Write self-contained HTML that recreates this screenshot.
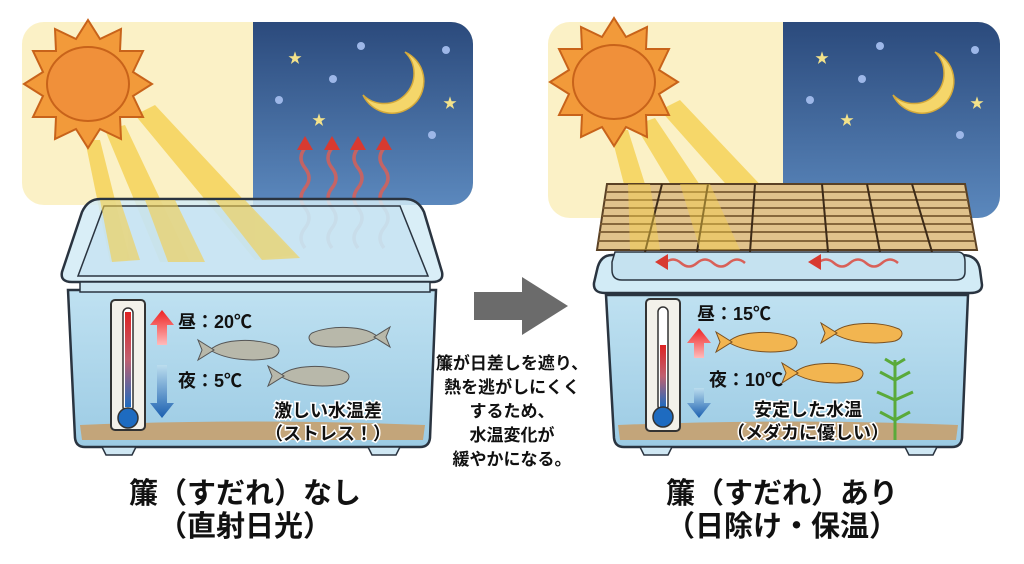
<!DOCTYPE html>
<html><head><meta charset="utf-8"><style>
body{margin:0;background:#fff;width:1024px;height:559px;overflow:hidden}
svg text{font-family:"Liberation Sans","Noto Sans CJK JP",sans-serif;font-weight:bold}
</style></head><body>
<svg width="1024" height="559" viewBox="0 0 1024 559" xmlns="http://www.w3.org/2000/svg">
<defs>
<linearGradient id="night" x1="0" y1="0" x2="0" y2="1"><stop offset="0" stop-color="#2b4a7c"/><stop offset="1" stop-color="#5b88bd"/></linearGradient>
<linearGradient id="water" x1="0" y1="0" x2="0" y2="1"><stop offset="0" stop-color="#bfe1f1"/><stop offset="1" stop-color="#9ccbe4"/></linearGradient>
<linearGradient id="therm" x1="0" y1="0" x2="0" y2="1"><stop offset="0" stop-color="#d22"/><stop offset="0.5" stop-color="#c06070"/><stop offset="1" stop-color="#1e6bc0"/></linearGradient>
<linearGradient id="up" x1="0" y1="0" x2="0" y2="1"><stop offset="0" stop-color="#e22"/><stop offset="1" stop-color="#fbb"/></linearGradient>
<linearGradient id="dn" x1="0" y1="0" x2="0" y2="1"><stop offset="0" stop-color="#bde"/><stop offset="1" stop-color="#1a5fb0"/></linearGradient>
<g id="sun">
<polygon fill="#f29a3a" stroke="#c8631a" stroke-width="2" points="0,-64 12,-45 33,-55 32,-33 55,-33 45,-12 64,0 45,12 55,33 32,33 33,55 12,45 0,64 -12,45 -33,55 -32,33 -55,33 -45,12 -64,0 -45,-12 -55,-33 -32,-33 -33,-55 -12,-45"/>
<ellipse rx="41" ry="37" fill="#f0903a" stroke="#c8631a" stroke-width="2"/>
</g>
<g id="fish"><path d="M-38,0 C-25,-12 10,-12 28,-4 C34,0 30,6 24,8 C5,12 -22,10 -38,0 Z"/><path d="M-34,0 L-50,-10 L-46,0 L-50,10 Z"/></g>
</defs>

<rect x="22" y="22" width="451" height="183" rx="22" fill="#fbf1c6"/>
<path d="M253,22 H451 A22,22 0 0 1 473,44 V183 A22,22 0 0 1 451,205 H253 Z" fill="url(#night)"/>
<g fill="#f5cf4a" opacity="0.75">
<polygon points="85,140 100,140 130,260 110,262"/>
<polygon points="105,130 125,125 190,262 160,262"/>
<polygon points="135,115 155,105 295,255 255,260"/>
</g>
<use href="#sun" x="88" y="84"/>
<path d="M405,52 A32,32 0 1 1 363,95 A28,28 0 0 0 405,52 Z" fill="#f5d66a" stroke="#d4a93a" stroke-width="1.5"/>
<g fill="#9db7e8"><circle cx="361" cy="46" r="4"/><circle cx="333" cy="79" r="4"/><circle cx="279" cy="100" r="4"/><circle cx="446" cy="50" r="4"/><circle cx="432" cy="135" r="4"/></g>
<g fill="#f3e28a" font-size="14"><text x="288" y="63">★</text><text x="312" y="125">★</text><text x="443" y="108">★</text></g>
<g fill="none" stroke="#d86058" stroke-width="3.5" opacity="0.85">
<path d="M305,148 q-8,10 0,20 q8,10 0,20 q-8,10 0,20 q8,10 0,20 q-8,10 0,20"/>
<path d="M332,148 q-8,10 0,20 q8,10 0,20 q-8,10 0,20 q8,10 0,20 q-8,10 0,20"/>
<path d="M358,148 q-8,10 0,20 q8,10 0,20 q-8,10 0,20 q8,10 0,20 q-8,10 0,20"/>
<path d="M384,148 q-8,10 0,20 q8,10 0,20 q-8,10 0,20 q8,10 0,20 q-8,10 0,20"/>
</g>
<g fill="#d83a30"><polygon points="305,136 297,150 313,150"/><polygon points="332,136 324,150 340,150"/><polygon points="358,136 350,150 366,150"/><polygon points="384,136 376,150 392,150"/></g>

<path d="M100,199 H405 Q418,199 424,212 L442,272 Q444,282 432,282 H72 Q60,282 62,272 L82,212 Q88,199 100,199 Z" fill="#d2ebf6" fill-opacity="0.85" stroke="#2a3440" stroke-width="2.5"/>
<path d="M104,206 H400 L428,276 H78 Z" fill="#bfe0f0" fill-opacity="0.6" stroke="#2a3440" stroke-width="1.5"/>
<g fill="#f5cf4a" opacity="0.6"><polygon points="100,200 120,200 140,260 112,262"/><polygon points="145,200 175,200 205,262 168,262"/><polygon points="215,200 245,200 300,258 262,260"/></g>
<path d="M68,290 H436 L430,438 Q429,447 420,447 H85 Q76,447 75,438 Z" fill="url(#water)" stroke="#2a3440" stroke-width="2.5"/>
<path d="M80,282 H430 V292 H80 Z" fill="#cce6f2" stroke="#2a3440" stroke-width="1.5"/>
<path d="M80,425 Q250,418 425,425 L423,440 H82 Z" fill="#c3a57a"/>
<path d="M102,447 H136 L132,455 H106 Z M368,447 H400 L396,455 H372 Z" fill="#cfe7f3" stroke="#2a3440" stroke-width="1.5"/>
<rect x="111" y="300" width="34" height="130" rx="4" fill="#f3f1ea" stroke="#333" stroke-width="2"/>
<rect x="123" y="308" width="10" height="104" rx="5" fill="#fff" stroke="#333" stroke-width="1.5"/>
<rect x="125" y="312" width="6" height="95" fill="url(#therm)"/>
<circle cx="128" cy="418" r="10" fill="#1e6bc0" stroke="#333" stroke-width="1.5"/>
<polygon points="162,310 150,325 157,325 157,345 167,345 167,325 174,325" fill="url(#up)"/>
<polygon points="162,418 150,403 157,403 157,365 167,365 167,403 174,403" fill="url(#dn)"/>
<text x="178" y="328" font-size="18" fill="#111">昼：20℃</text>
<text x="178" y="387" font-size="18" fill="#111">夜：5℃</text>
<g fill="#b8b8aa" stroke="#555" stroke-width="1"><use href="#fish" x="248" y="350"/><use href="#fish" x="340" y="337" transform="scale(-1,1) translate(-680,0)"/><use href="#fish" x="318" y="376"/></g>
<text x="328" y="417" font-size="18" fill="#111" text-anchor="middle" stroke="#fff" stroke-width="3" paint-order="stroke">激しい水温差</text>
<text x="328" y="440" font-size="18" fill="#111" text-anchor="middle" stroke="#fff" stroke-width="3" paint-order="stroke">（ストレス！）</text>
<text x="245" y="503" font-size="29" fill="#111" text-anchor="middle">簾（すだれ）なし</text>
<text x="245" y="536" font-size="29" fill="#111" text-anchor="middle">（直射日光）</text>

<polygon points="474,292 522,292 522,277 568,306 522,335 522,320 474,320" fill="#6b6b6b"/>
<g font-size="17" fill="#111" text-anchor="middle">
<text x="512" y="369">簾が日差しを遮り、</text>
<text x="512" y="393">熱を逃がしにくく</text>
<text x="512" y="417">するため、</text>
<text x="512" y="441">水温変化が</text>
<text x="512" y="465">緩やかになる。</text>
</g>

<rect x="548" y="22" width="452" height="196" rx="22" fill="#fbf1c6"/>
<path d="M783,22 H978 A22,22 0 0 1 1000,44 V196 A22,22 0 0 1 978,218 H783 Z" fill="url(#night)"/>
<g fill="#f5cf4a" opacity="0.75">
<polygon points="610,130 628,130 650,200 628,200"/>
<polygon points="635,125 655,118 710,200 680,200"/>
<polygon points="660,110 680,100 770,195 740,200"/>
</g>
<use href="#sun" x="614" y="82"/>
<path d="M935,52 A32,32 0 1 1 893,95 A28,28 0 0 0 935,52 Z" fill="#f5d66a" stroke="#d4a93a" stroke-width="1.5"/>
<g fill="#9db7e8"><circle cx="880" cy="46" r="4"/><circle cx="862" cy="79" r="4"/><circle cx="810" cy="100" r="4"/><circle cx="975" cy="50" r="4"/><circle cx="960" cy="135" r="4"/></g>
<g fill="#f3e28a" font-size="14"><text x="815" y="63">★</text><text x="840" y="125">★</text><text x="970" y="108">★</text></g>

<path d="M612,255 H962 Q978,255 980,270 L982,285 Q982,293 970,293 H605 Q593,293 594,283 L597,270 Q600,255 612,255 Z" fill="#d2ebf6" stroke="#2a3440" stroke-width="2.5"/>
<path d="M615,252 H958 Q965,252 965,262 V272 Q965,280 955,280 H622 Q612,280 612,270 V262 Z" fill="#c5e2f0" stroke="#2a3440" stroke-width="1.5"/>
<g fill="none" stroke="#d86058" stroke-width="2.5">
<path d="M665,263 q8,-7 16,0 t16,0 t16,0 t16,0 t16,0"/>
<path d="M818,263 q8,-7 16,0 t16,0 t16,0 t16,0 t16,0"/>
</g>
<g fill="#d83a30"><polygon points="655,262 668,254 668,270"/><polygon points="808,262 821,254 821,270"/></g>
<polygon points="607,184 965,184 977,250 597,250" fill="#e0c28c" stroke="#5a4125" stroke-width="2"/>
<g stroke="#7a5a30" stroke-width="1.8">
<line x1="606" y1="192" x2="966" y2="192"/><line x1="604" y1="200" x2="968" y2="200"/><line x1="603" y1="208" x2="969" y2="208"/><line x1="602" y1="216" x2="971" y2="216"/><line x1="600" y1="224" x2="972" y2="224"/><line x1="599" y1="232" x2="974" y2="232"/><line x1="598" y1="241" x2="975" y2="241"/>
</g>
<g stroke="#3c2a18" stroke-width="2">
<line x1="662" y1="184" x2="645" y2="252"/><line x1="708" y1="184" x2="697" y2="252"/><line x1="755" y1="184" x2="750" y2="252"/><line x1="822" y1="184" x2="828" y2="252"/><line x1="867" y1="184" x2="880" y2="252"/><line x1="912" y1="184" x2="932" y2="252"/>
</g>
<g fill="#f5cf4a" opacity="0.45"><polygon points="628,184 650,184 660,250 630,250"/><polygon points="680,184 710,184 740,250 700,250"/></g>
<path d="M606,295 H968 L962,438 Q961,447 952,447 H624 Q615,447 614,438 Z" fill="url(#water)" stroke="#2a3440" stroke-width="2.5"/>
<path d="M618,425 Q790,418 958,425 L956,440 H620 Z" fill="#c3a57a"/>
<path d="M640,447 H672 L668,455 H644 Z M905,447 H937 L933,455 H909 Z" fill="#cfe7f3" stroke="#2a3440" stroke-width="1.5"/>
<rect x="646" y="299" width="34" height="132" rx="4" fill="#f3f1ea" stroke="#333" stroke-width="2"/>
<rect x="658" y="307" width="10" height="104" rx="5" fill="#fff" stroke="#333" stroke-width="1.5"/>
<rect x="660" y="345" width="6" height="62" fill="url(#therm)"/>
<circle cx="663" cy="417" r="10" fill="#1e6bc0" stroke="#333" stroke-width="1.5"/>
<polygon points="699,328 687,343 694,343 694,358 704,358 704,343 711,343" fill="url(#up)"/>
<polygon points="699,418 687,403 694,403 694,388 704,388 704,403 711,403" fill="url(#dn)"/>
<text x="697" y="320" font-size="18" fill="#111">昼：15℃</text>
<text x="709" y="386" font-size="18" fill="#111">夜：10℃</text>
<g fill="#f2b550" stroke="#7a5020" stroke-width="1"><use href="#fish" x="766" y="342"/><use href="#fish" x="871" y="333"/><use href="#fish" x="832" y="373"/></g>
<g stroke="#5aaa3a" stroke-width="3" fill="none"><path d="M895,440 V360 M895,380 l-15,-8 M895,380 l15,-8 M895,400 l-18,-8 M895,400 l18,-8 M895,420 l-15,-8 M895,420 l15,-8 M895,365 l-10,-6 M895,365 l10,-6"/></g>
<text x="808" y="416" font-size="18" fill="#111" text-anchor="middle" stroke="#fff" stroke-width="3" paint-order="stroke">安定した水温</text>
<text x="808" y="439" font-size="18" fill="#111" text-anchor="middle" stroke="#fff" stroke-width="3" paint-order="stroke">（メダカに優しい）</text>
<text x="782" y="503" font-size="29" fill="#111" text-anchor="middle">簾（すだれ）あり</text>
<text x="782" y="536" font-size="29" fill="#111" text-anchor="middle">（日除け・保温）</text>
</svg>
</body></html>
